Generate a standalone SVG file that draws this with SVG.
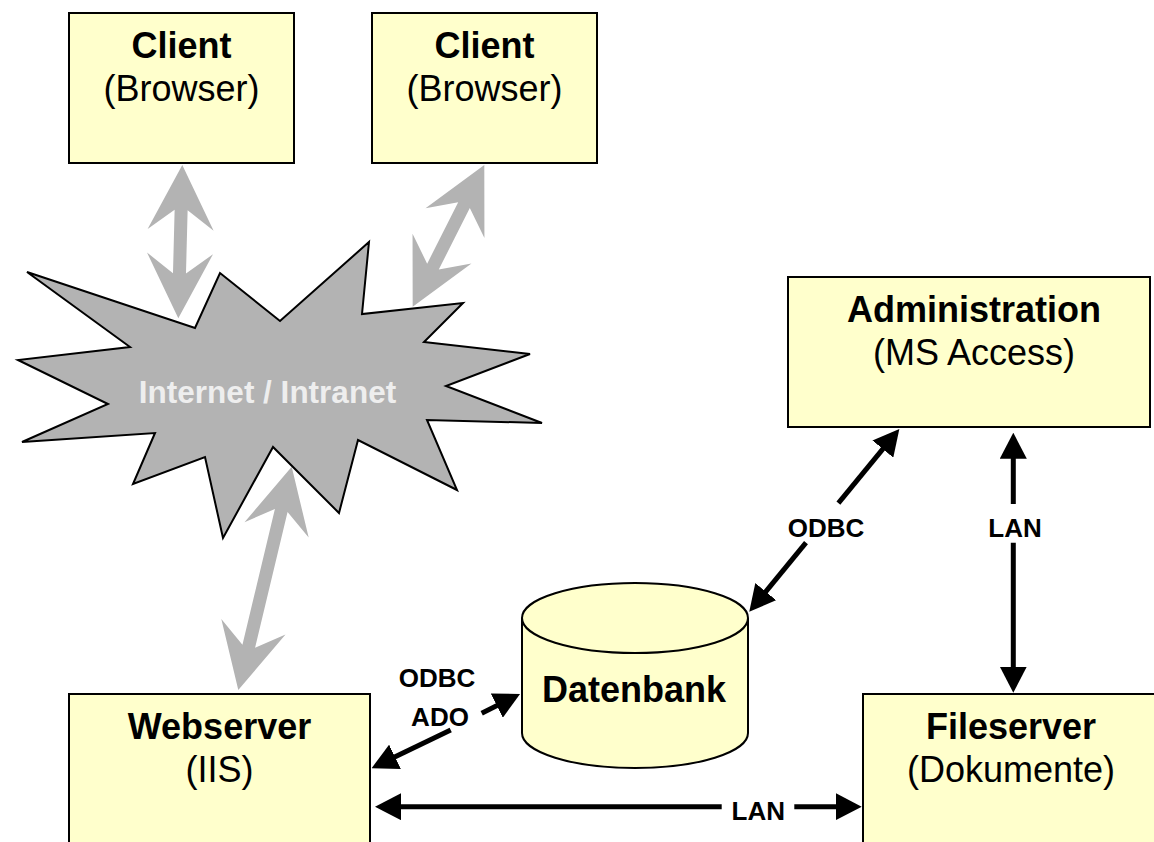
<svg xmlns="http://www.w3.org/2000/svg" width="1154" height="842" viewBox="0 0 1154 842">
<defs>
<style>
.box{fill:#ffffcc;stroke:#000;stroke-width:2}
.t{font-family:"Liberation Sans",Arial,sans-serif;fill:#000;text-anchor:middle}
.b{font-weight:bold;font-size:36px}
.r{font-size:36px}
.lbl{font-weight:bold;font-size:26px}
.garrow{fill:#b3b3b3;stroke:none}
.conn{stroke:#000;stroke-width:5;fill:none;marker-end:url(#ah)}
</style>
<marker id="ah" markerUnits="userSpaceOnUse" markerWidth="26" markerHeight="27" refX="16" refY="13.5" orient="auto" viewBox="0 0 26 27">
<path d="M0,0 L26,13.5 L0,27 z" fill="#000"/>
</marker>
</defs>
<rect width="1154" height="842" fill="#fff"/>

<g id="internet">
<polygon points="27,272 195,328 220,273 280,321 369,242 362,314 463,303 424,342 530,354 446,386 542,423 427,420 457,490 358,440 339,513 273,447 223,538 205,457 133,484 155,433 22,442 108,404 18,360 130,347" fill="#b3b3b3" stroke="#000" stroke-width="2" stroke-linejoin="miter"/>
<text class="t" x="267.5" y="402.5" style="font-weight:bold;font-size:31.5px;fill:#eeeeee">Internet / Intranet</text>
</g>

<g id="client1">
<rect class="box" x="69" y="13" width="225" height="150"/>
<text class="t b" x="181.5" y="58">Client</text>
<text class="t r" x="181.5" y="101">(Browser)</text>
</g>

<g id="client2">
<rect class="box" x="372" y="13" width="225" height="150"/>
<text class="t b" x="484.5" y="58">Client</text>
<text class="t r" x="484.5" y="101">(Browser)</text>
</g>

<g id="administration">
<rect class="box" x="788" y="277" width="362" height="150"/>
<text class="t b" x="974" y="322">Administration</text>
<text class="t r" x="974" y="365">(MS Access)</text>
</g>

<g id="webserver">
<rect class="box" x="69" y="694" width="301" height="170"/>
<text class="t b" x="219.5" y="739">Webserver</text>
<text class="t r" x="219.5" y="782">(IIS)</text>
</g>

<g id="fileserver">
<rect class="box" x="863" y="694" width="300" height="170"/>
<text class="t b" x="1011" y="739">Fileserver</text>
<text class="t r" x="1011" y="782">(Dokumente)</text>
</g>

<g id="datenbank">
<path d="M522,618 L522,733 A113,35 0 0 0 748,733 L748,618" fill="#ffffcc" stroke="#000" stroke-width="2"/>
<ellipse cx="635" cy="618" rx="113" ry="35" fill="#ffffcc" stroke="#000" stroke-width="2"/>
<text class="t b" x="634" y="702">Datenbank</text>
</g>

<g id="connectors">
<polygon class="garrow" transform="translate(182.3,165) rotate(91.49)" points="0,0 65,-33 45,-6.5 108.4,-6.5 88.4,-33 153.4,0 88.4,33 108.4,6.5 45,6.5 65,33"/>
<polygon class="garrow" transform="translate(484.3,165) rotate(116.81)" points="0,0 65,-33 45,-6.5 113.8,-6.5 93.8,-33 158.8,0 93.8,33 113.8,6.5 45,6.5 65,33"/>
<polygon class="garrow" transform="translate(291.7,466.7) rotate(103.45)" points="0,0 65,-33 45,-6.5 184.6,-6.5 164.6,-33 229.6,0 164.6,33 184.6,6.5 45,6.5 65,33"/>

<line class="conn" x1="838.4" y1="503.2" x2="893" y2="436.7"/>
<line class="conn" x1="806" y1="542.6" x2="755.6" y2="604"/>
<text class="t lbl" x="826" y="537">ODBC</text>

<line class="conn" x1="1013.3" y1="504" x2="1013.3" y2="442.7"/>
<line class="conn" x1="1013.3" y1="542.7" x2="1013.3" y2="682.7"/>
<text class="t lbl" x="1015" y="537">LAN</text>

<line class="conn" x1="481.7" y1="713.2" x2="511.1" y2="698.5"/>
<line class="conn" x1="450.7" y1="729.9" x2="380.6" y2="763.8"/>
<text class="t lbl" x="437" y="687">ODBC</text>
<text class="t lbl" x="440" y="726">ADO</text>

<line class="conn" x1="721.7" y1="806.7" x2="385" y2="806.7"/>
<line class="conn" x1="794.3" y1="806.7" x2="851.7" y2="806.7"/>
<text class="t lbl" x="758.3" y="820">LAN</text>
</g>
</svg>
